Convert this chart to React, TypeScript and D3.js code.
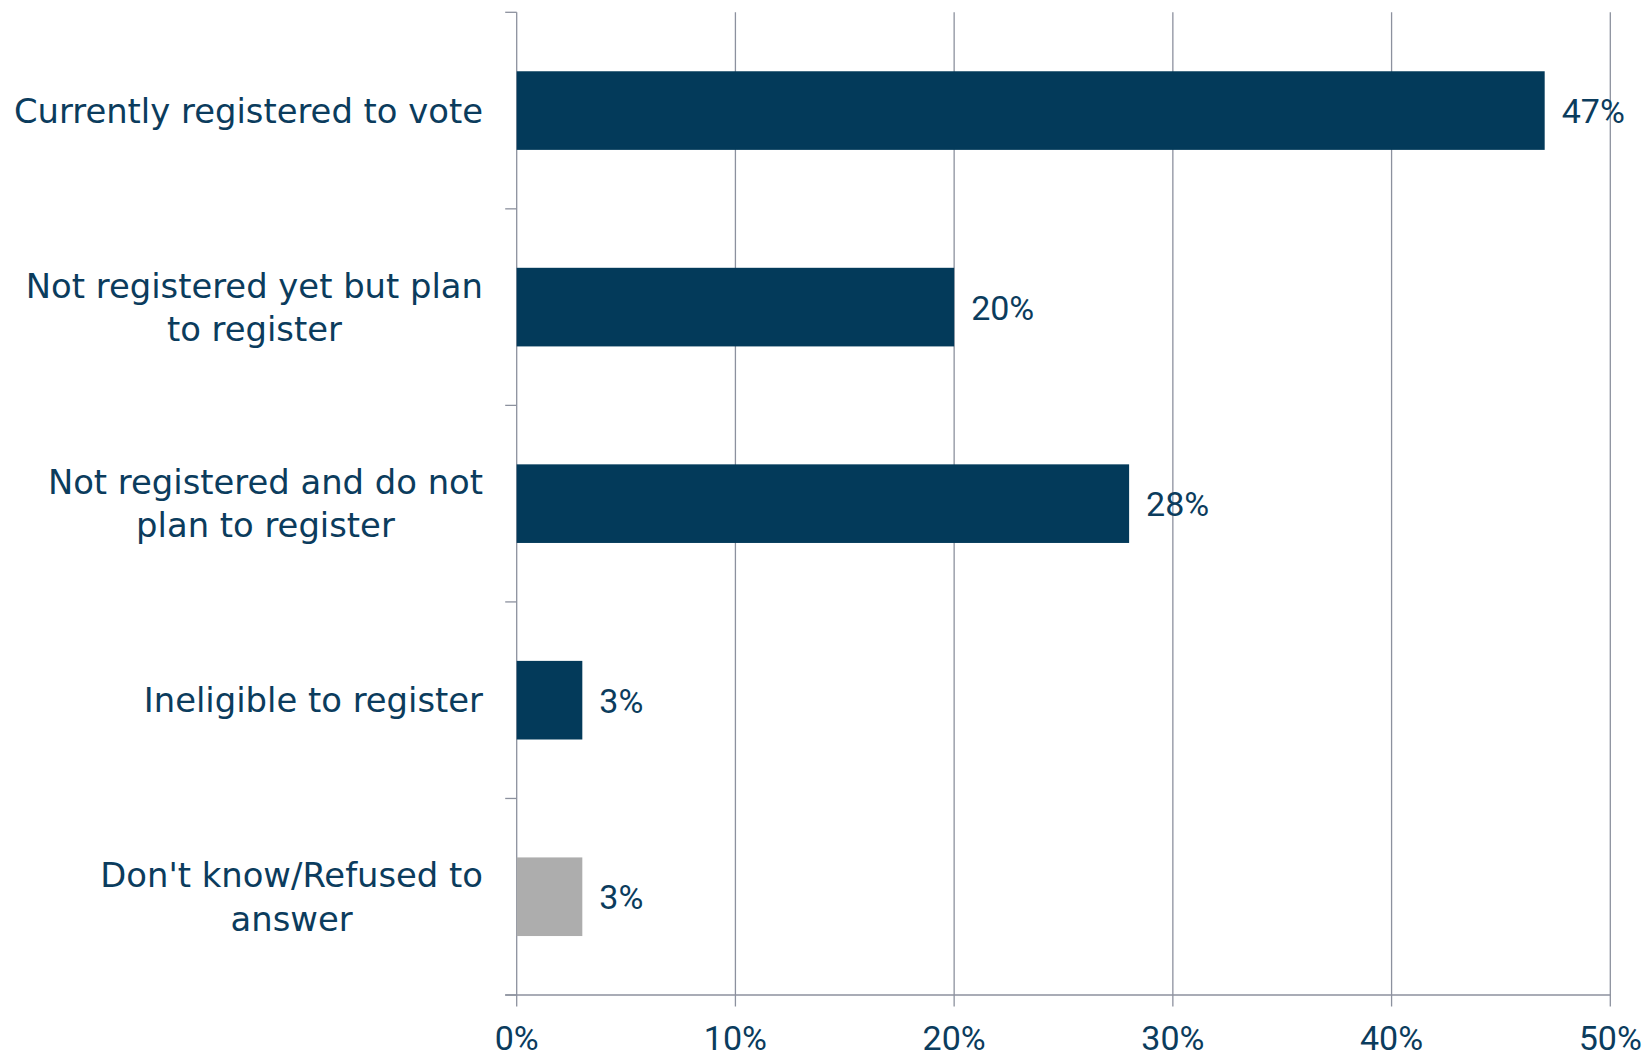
import React from "react";
import * as d3 from "d3";

const categories: string[][] = [
  ["Currently registered to vote"],
  ["Not registered yet but plan", "to register"],
  ["Not registered and do not", "plan to register"],
  ["Ineligible to register"],
  ["Don't know/Refused to", "answer"],
];
const values: number[] = [0.47, 0.2, 0.28, 0.03, 0.03];
const barColors: string[] = ["#033A5A", "#033A5A", "#033A5A", "#033A5A", "#ADADAD"];
const valueLabels: string[] = ["47%", "20%", "28%", "3%", "3%"];
const xTicks: number[] = [0, 0.1, 0.2, 0.3, 0.4, 0.5];

const W = 1644;
const H = 1056;
const CAT_FONT = "Tahoma, 'DejaVu Sans', sans-serif";
const NUM_FONT = "Tahoma, Roboto, sans-serif";
const TEXT = "#0B3C5D";
const GRID = "#8C919E";
const CAT_FS = 33.8;
const NUM_FS = 34;

export default function App() {
  const left = 516.7;
  const right = 1610.3;
  const top = 12.3;
  const bottom = 995;
  const x = d3.scaleLinear().domain([0, 0.5]).range([left, right]);
  const keys = categories.map((_, i) => String(i));
  const y = d3.scaleBand<string>().domain(keys).range([top, bottom]).paddingInner(0.6).paddingOuter(0.3);
  const step = y.step();
  const boundaries = d3.range(categories.length + 1).map((i) => top + i * step);
  const lineH = 43.3;

  return (
    <svg width={W} height={H} style={{ position: "absolute", left: 0, top: 0, background: "#fff" }}>
      <rect x={0} y={0} width={W} height={H} fill="#fff" />
      {xTicks.map((t, i) => (
        <g key={"g" + i}>
          <line x1={x(t)} x2={x(t)} y1={top} y2={bottom + 11.5} stroke={GRID} strokeWidth={1.3} />
          <text x={x(t)} y={1050} textAnchor="middle" fontSize={NUM_FS} fontFamily={NUM_FONT} fill={TEXT}>
            {d3.format(".0%")(t)}
          </text>
        </g>
      ))}
      <line x1={left - 11.5} x2={right} y1={bottom} y2={bottom} stroke={GRID} strokeWidth={1.3} />
      {boundaries.map((b, i) => (
        <line key={"yt" + i} x1={left - 11.5} x2={left} y1={b} y2={b} stroke={GRID} strokeWidth={1.3} />
      ))}
      {values.map((v, i) => (
        <rect
          key={"b" + i}
          x={x(0)}
          y={y(String(i))!}
          width={x(v) - x(0)}
          height={y.bandwidth()}
          fill={barColors[i]}
        />
      ))}
      {values.map((v, i) => (
        <text
          key={"v" + i}
          x={x(v) + 17}
          y={y(String(i))! + y.bandwidth() / 2}
          dy="0.37em"
          fontSize={NUM_FS}
          fontFamily={NUM_FONT}
          fill={TEXT}
        >
          {valueLabels[i]}
        </text>
      ))}
      {categories.map((lines, i) => {
        const cy = y(String(i))! + y.bandwidth() / 2;
        return <CatLabel key={"c" + i} lines={lines} cy={cy} rightX={483} lineH={lineH} />;
      })}
    </svg>
  );
}

function CatLabel({ lines, cy, rightX, lineH }: { lines: string[]; cy: number; rightX: number; lineH: number }) {
  const ref = React.useRef<SVGGElement>(null);
  React.useLayoutEffect(() => {
    const g = ref.current;
    if (!g) return;
    const texts = Array.from(g.querySelectorAll("text")) as SVGTextElement[];
    const widths = texts.map((t) => t.getComputedTextLength());
    const maxW = Math.max(...widths);
    const cx = rightX - maxW / 2;
    texts.forEach((t) => t.setAttribute("x", String(cx)));
  }, [lines, rightX]);
  const n = lines.length;
  return (
    <g ref={ref}>
      {lines.map((l, j) => (
        <text
          key={j}
          x={rightX}
          y={cy + (j - (n - 1) / 2) * lineH}
          dy="0.36em"
          textAnchor="middle"
          fontSize={CAT_FS}
          fontFamily={CAT_FONT}
          fill={TEXT}
        >
          {l}
        </text>
      ))}
    </g>
  );
}
